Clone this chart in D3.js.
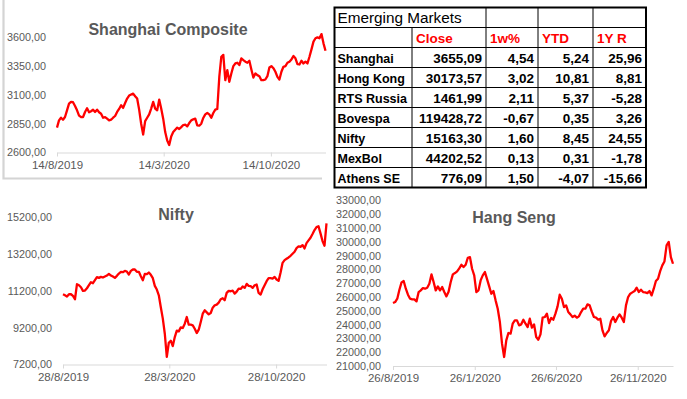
<!DOCTYPE html>
<meta charset="utf-8">

<!-- Load d3.js -->
<script src="https://d3js.org/d3.v7.min.js"></script>

<style>
  body { margin: 0; background: #fff; }
  svg { display: block; }
</style>

<!-- Create a div where the graph will take place -->
<div id="my_dashboard"></div>

<script>
// ---- data (one point every 4 days) ----
var stepDays = 4;

var shanghaiStart = "2019-08-14";
var shanghaiValues = [2815,2878,2901,2884,2907,2965,3023,3038,3035,3003,
  2965,2919,2907,2907,2951,2983,2948,2957,2971,2951,
  2971,2948,2936,2901,2907,2893,2878,2884,2901,2916,
  2951,2977,3009,2986,3029,3067,3093,3102,3110,3087,
  3067,2971,2849,2756,2872,2901,2930,2980,3038,2980,
  2965,3058,2980,2893,2777,2704,2665,2739,2777,2797,
  2815,2803,2820,2838,2841,2826,2855,2878,2887,2893,
  2835,2832,2849,2899,2930,2942,2930,2901,2942,2971,
  2977,3255,3429,3445,3226,3313,3212,3284,3348,3371,
  3377,3357,3415,3400,3386,3377,3394,3319,3249,3284,
  3270,3261,3226,3226,3232,3261,3336,3348,3330,3299,
  3255,3232,3299,3342,3348,3377,3386,3406,3435,3415,
  3365,3362,3394,3371,3386,3371,3429,3493,3560,3589,
  3597,3589,3625,3545,3481];
var shanghaiTicks = ["2019-08-14", "2020-03-14", "2020-10-14"];
var shanghaiYTicks = [2600, 2850, 3100, 3350, 3600];

var niftyStart = "2019-08-28";
var niftyValues = [11010,10955,10883,11010,11010,10919,10738,11554,11500,11391,
  11191,11209,11336,11500,11663,11608,11772,11935,11899,11953,
  11917,11971,12026,12116,12026,11971,11899,12008,12135,12225,
  12207,12280,12243,12080,12280,12352,12352,12225,12225,11989,
  11772,12116,12098,12189,12062,11881,11463,11264,10955,10302,
  9686,8869,7610,8380,8488,8198,8688,9033,8996,9214,
  9178,9414,9776,9359,9359,9323,9141,8906,9087,9504,
  9958,10139,10030,9921,9994,10284,10411,10447,10556,10738,
  10792,10683,11082,11191,11173,11209,11046,11155,11318,11300,
  11427,11355,11572,11463,11445,11355,11500,11536,11082,10992,
  11282,11500,11717,11881,11881,11862,11953,11808,11735,12189,
  12715,12860,12933,13005,13096,13205,13314,13513,13604,13586,
  13676,13495,13785,13930,14075,14275,14493,14650,14700,14311,
  13894,13640,14856];
var niftyTicks = ["2019-08-28", "2020-03-28", "2020-10-28"];
var niftyYTicks = [7200, 9200, 11200, 13200, 15200];

var hangSengStart = "2019-08-26";
var hangSengValues = [25565,25638,25879,26531,27062,27159,26604,26169,25879,25831,
  25831,25686,26362,26483,26652,26604,26676,26966,27642,27086,
  26483,26772,26483,26724,26362,26048,26386,27086,27642,27738,
  27859,28076,28342,28173,28342,28849,28897,28052,27569,26362,
  26483,27207,27569,27811,27304,26772,26241,26434,25759,25155,
  24190,22620,21655,22862,23393,23345,24069,24310,24310,23948,
  24020,24358,24069,23827,24431,23779,24020,23103,22910,23296,
  24503,24552,24793,24117,24479,24358,24793,25324,26169,25879,
  25276,25397,24914,24745,24552,24648,24503,24600,24914,25155,
  25155,25469,25397,24938,24552,24503,24358,24431,23586,23151,
  23393,23586,24262,24552,24190,24503,24745,24503,24190,25397,
  26000,26241,26338,26434,26676,26362,26531,26362,26338,26290,
  26434,26121,26604,27159,27328,27883,28293,28583,29742,30000,
  28897,28414];
var hangSengTicks = ["2019-08-26", "2020-01-26", "2020-06-26", "2020-11-26"];
var hangSengYTicks = [21000, 22000, 23000, 24000, 25000, 26000, 27000, 28000, 29000, 30000, 31000, 32000, 33000];

// table
var tableTitle = "Emerging Markets";
var tableColumns = ["Close", "1w%", "YTD", "1Y R"];
var markets = ["Shanghai", "Hong Kong", "RTS Russia", "Bovespa", "Nifty", "MexBol", "Athens SE"];
var closeValues = [3655.09, 30173.57, 1461.99, 119428.72, 15163.30, 44202.52, 776.09];
var weekChange = [4.54, 3.02, 2.11, -0.67, 1.60, 0.13, 1.50];
var ytdChange = [5.24, 10.81, 5.37, 0.35, 8.45, 0.31, -4.07];
var yearChange = [25.96, 8.81, -5.28, 3.26, 24.55, -1.78, -15.66];

// ---- helpers ----
var parseDate = d3.timeParse("%Y-%m-%d");
var numFormat = d3.formatLocale({decimal: ",", thousands: "", grouping: [3], currency: ["", ""], minus: "-"}).format(".2f");
var dateFormat = function(d) { return d.getDate() + "/" + (d.getMonth() + 1) + "/" + d.getFullYear(); };
var labelFont = "'Liberation Sans', Arial, sans-serif";

var svg = d3.select("#my_dashboard")
  .append("svg")
    .attr("width", 687)
    .attr("height", 399);

// grey frame left/bottom of the Shanghai chart
svg.append("path")
  .attr("d", "M3.5,0V178.5H322")
  .attr("fill", "none")
  .attr("stroke", "#d4d4d4")
  .attr("stroke-width", 2.2);

function drawChart(c) {
  var start = parseDate(c.start);
  var data = c.values.map(function(v, i) {
    return {date: d3.timeDay.offset(start, i * stepDays), value: v};
  });

  var x = d3.scaleTime()
    .domain(d3.extent(data, function(d) { return d.date; }))
    .range([c.x0, c.x1]);
  var y = d3.scaleLinear()
    .domain([c.yTicks[0], c.yTicks[c.yTicks.length - 1]])
    .range([c.y0, c.y1]);

  // y labels, no axis line
  var ya = svg.append("g")
    .attr("transform", "translate(" + c.x0 + ",0)")
    .call(d3.axisLeft(y).tickValues(c.yTicks).tickSize(0).tickPadding(c.pad).tickFormat(numFormat));
  ya.select(".domain").remove();
  ya.selectAll("text")
    .attr("fill", "#595959")
    .style("font-family", labelFont)
    .style("font-size", "10.8px");

  // date axis
  var xa = svg.append("g")
    .attr("transform", "translate(0," + c.y0 + ")")
    .call(d3.axisBottom(x).tickValues(c.ticks.map(parseDate)).tickSize(4).tickSizeOuter(0).tickPadding(4).tickFormat(dateFormat));
  xa.select(".domain").attr("stroke", "#d9d9d9");
  xa.selectAll(".tick line").attr("stroke", "#d9d9d9");
  xa.selectAll("text")
    .attr("fill", "#595959")
    .style("font-family", labelFont)
    .style("font-size", "11.5px");

  // the line
  svg.append("path")
    .datum(data)
    .attr("fill", "none")
    .attr("stroke", "#ff0000")
    .attr("stroke-width", 2.3)
    .attr("stroke-linejoin", "round")
    .attr("d", d3.line()
      .x(function(d) { return x(d.date); })
      .y(function(d) { return y(d.value); }));

  // title
  svg.append("text")
    .attr("x", c.titleX)
    .attr("y", c.titleY)
    .attr("text-anchor", "middle")
    .attr("fill", "#595959")
    .style("font-family", labelFont)
    .style("font-weight", "bold")
    .style("font-size", "16px")
    .text(c.title);
}

drawChart({title: "Shanghai Composite", start: shanghaiStart, values: shanghaiValues, ticks: shanghaiTicks, yTicks: shanghaiYTicks,
  x0: 57, x1: 325.5, y0: 152.5, y1: 37, pad: 11, titleX: 168, titleY: 34.5});
drawChart({title: "Nifty", start: niftyStart, values: niftyValues, ticks: niftyTicks, yTicks: niftyYTicks,
  x0: 63, x1: 326.5, y0: 364.5, y1: 217, pad: 11, titleX: 176, titleY: 219.5});
drawChart({title: "Hang Seng", start: hangSengStart, values: hangSengValues, ticks: hangSengTicks, yTicks: hangSengYTicks,
  x0: 393, x1: 673, y0: 366, y1: 200.5, pad: 12, titleX: 514, titleY: 222.5});

// top of the next chart's first label, cut by the picture edge as in the original
svg.append("text")
  .attr("x", 372)
  .attr("y", 406.5)
  .attr("text-anchor", "end")
  .attr("fill", "#595959")
  .style("font-family", labelFont)
  .style("font-size", "10.8px")
  .text("1700,00");

// ---- Emerging Markets table ----
var colX = [334.5, 412, 486, 538, 593, 646];
var rowY = d3.scaleBand().domain(d3.range(markets.length + 2)).range([7.5, 187.5]);
var rowH = rowY.bandwidth();
var table = svg.append("g")
  .style("font-family", labelFont);

// inner lines
table.selectAll(".hline")
  .data(d3.range(1, markets.length + 2))
  .enter()
  .append("line")
    .attr("x1", colX[0]).attr("x2", colX[5])
    .attr("y1", function(r) { return rowY(r); })
    .attr("y2", function(r) { return rowY(r); })
    .attr("stroke", "#000");
table.selectAll(".vline")
  .data([1, 2, 3, 4])
  .enter()
  .append("line")
    .attr("x1", function(c) { return colX[c]; })
    .attr("x2", function(c) { return colX[c]; })
    .attr("y1", function(c) { return c == 1 ? rowY(1) : rowY(0); })
    .attr("y2", rowY(markets.length + 1) + rowH)
    .attr("stroke", "#000");
table.append("rect")
  .attr("x", colX[0]).attr("y", rowY(0))
  .attr("width", colX[5] - colX[0])
  .attr("height", rowH * (markets.length + 2))
  .attr("fill", "none")
  .attr("stroke", "#000")
  .attr("stroke-width", 2);

table.append("text")
  .attr("x", colX[0] + 3)
  .attr("y", rowY(0) + rowH - 5)
  .style("font-size", "15.3px")
  .text(tableTitle);

table.selectAll(".head")
  .data(tableColumns)
  .enter()
  .append("text")
    .attr("x", function(d, i) { return colX[i + 1] + 4; })
    .attr("y", rowY(1) + rowH - 5)
    .attr("fill", "#ff0000")
    .style("font-weight", "bold")
    .style("font-size", "13.5px")
    .text(function(d) { return d; });

var columnsData = [closeValues, weekChange, ytdChange, yearChange];
markets.forEach(function(m, r) {
  var yy = rowY(r + 2) + rowH - 4.5;
  table.append("text")
    .attr("x", colX[0] + 3)
    .attr("y", yy)
    .style("font-weight", "bold")
    .style("font-size", "12.5px")
    .text(m);
  columnsData.forEach(function(col, c) {
    table.append("text")
      .attr("x", colX[c + 2] - 4)
      .attr("y", yy)
      .attr("text-anchor", "end")
      .style("font-weight", "bold")
      .style("font-size", "13.5px")
      .text(numFormat(col[r]));
  });
});
</script>
